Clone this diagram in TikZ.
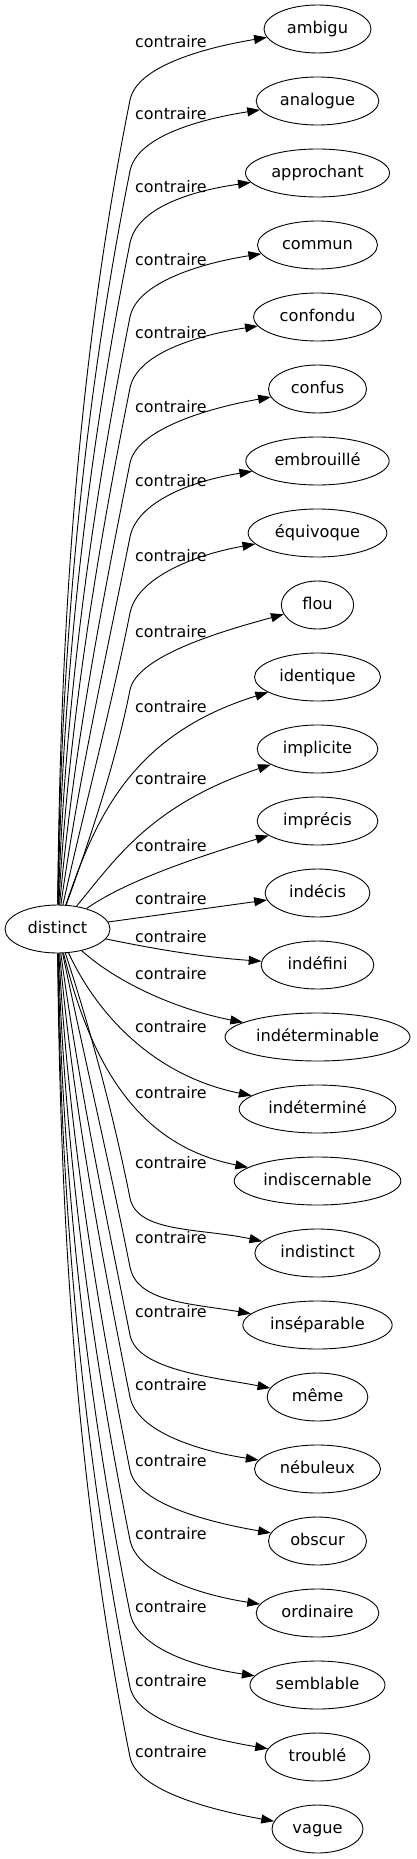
\documentclass[tikz,border=0pt]{standalone}
\usepackage{fontspec}
\setmainfont{DejaVu Sans}
\usetikzlibrary{arrows.meta,shapes.geometric}
\tikzset{
 tnode/.style={draw, ellipse, line width=0.9pt, minimum height=48pt, inner sep=0pt,
   font=\fontsize{16.2}{19}\selectfont, text height=9.5pt, text depth=0pt},
 lbl/.style={anchor=west, inner sep=0pt, font=\fontsize{15.9}{18}\selectfont,
   text height=11.5pt, text depth=0pt},
 edge/.style={draw, line width=0.9pt, -{Triangle[length=12.7pt,width=9pt]}}
}
% #1 target, #2 target y, #3 bend offset, #4 first control x, #5 target width, #6 end control offset
\newcommand\upE[6]{\draw[edge] (distinct) .. controls (#4,{905-(905-#2-#3)/3}) and ({130-0.2*(905-#2-#3)/3},{#2+#3+(905-#2-#3)/3}) .. (130,{#2+#3}) .. controls (137,{#2+#3-35}) and ({262.5-#5/2},{#2+#6}) .. (#1);}
\newcommand\downE[6]{\draw[edge] (distinct) .. controls (#4,{953+(#2+#3-953)/3}) and ({130-0.2*(#2+#3-953)/3},{#2+#3-(#2+#3-953)/3}) .. (130,{#2+#3}) .. controls (137,{#2+#3+35}) and ({262.5-#5/2},{#2-#6}) .. (#1);}
\begin{document}
\begin{tikzpicture}[x=1pt,y=-1pt]
\useasboundingbox (0,0) rectangle (416,1859);
\node[tnode, minimum width=105pt] (distinct) at (57.5,929) {distinct};
\node[tnode, minimum width=107pt] (ambigu) at (317.5,29) {ambigu};
\node[tnode, minimum width=122.7pt] (analogue) at (317.5,101) {analogue};
\node[tnode, minimum width=144pt] (approchant) at (317.5,173) {approchant};
\node[tnode, minimum width=120pt] (commun) at (317.5,245) {commun};
\node[tnode, minimum width=127.7pt] (confondu) at (317.5,317) {confondu};
\node[tnode, minimum width=98pt] (confus) at (317.5,389) {confus};
\node[tnode, minimum width=143.3pt] (embrouille) at (317.5,461) {embrouillé};
\node[tnode, minimum width=138.7pt] (equivoque) at (317.5,533) {équivoque};
\node[tnode, minimum width=72.3pt] (flou) at (317.5,605) {flou};
\node[tnode, minimum width=126pt] (identique) at (317.5,677) {identique};
\node[tnode, minimum width=120.7pt] (implicite) at (317.5,749) {implicite};
\node[tnode, minimum width=120.7pt] (imprecis) at (317.5,821) {imprécis};
\node[tnode, minimum width=104.7pt] (indecis) at (317.5,893) {indécis};
\node[tnode, minimum width=112.7pt] (indefini) at (317.5,965) {indéfini};
\node[tnode, minimum width=185pt] (indeterminable) at (317.5,1037) {indéterminable};
\node[tnode, minimum width=156.7pt] (indetermine) at (317.5,1109) {indéterminé};
\node[tnode, minimum width=166.7pt] (indiscernable) at (317.5,1181) {indiscernable};
\node[tnode, minimum width=125.3pt] (indistinct) at (317.5,1253) {indistinct};
\node[tnode, minimum width=149.3pt] (inseparable) at (317.5,1325) {inséparable};
\node[tnode, minimum width=100.7pt] (meme) at (317.5,1397) {même};
\node[tnode, minimum width=126pt] (nebuleux) at (317.5,1469) {nébuleux};
\node[tnode, minimum width=98pt] (obscur) at (317.5,1541) {obscur};
\node[tnode, minimum width=122.7pt] (ordinaire) at (317.5,1613) {ordinaire};
\node[tnode, minimum width=135pt] (semblable) at (317.5,1685) {semblable};
\node[tnode, minimum width=104.7pt] (trouble) at (317.5,1757) {troublé};
\node[tnode, minimum width=91pt] (vague) at (317.5,1829) {vague};
% labels
\node[lbl] (l0) at (135,42) {contraire};
\node[lbl] (l1) at (135,114) {contraire};
\node[lbl] (l2) at (135,187) {contraire};
\node[lbl] (l3) at (135,260) {contraire};
\node[lbl] (l4) at (135,333) {contraire};
\node[lbl] (l5) at (135,407) {contraire};
\node[lbl] (l6) at (135,481) {contraire};
\node[lbl] (l7) at (135,556) {contraire};
\node[lbl] (l8) at (135,632) {contraire};
\node[lbl] (l9) at (135,707) {contraire};
\node[lbl] (l10) at (135,779) {contraire};
\node[lbl] (l11) at (135,846) {contraire};
\node[lbl] (l12) at (135,899) {contraire};
\node[lbl] (l13) at (135,937) {contraire};
\node[lbl] (l14) at (135,974) {contraire};
\node[lbl] (l15) at (135,1027) {contraire};
\node[lbl] (l16) at (135,1093) {contraire};
\node[lbl] (l17) at (135,1163) {contraire};
\node[lbl] (l18) at (135,1238) {contraire};
\node[lbl] (l19) at (135,1312) {contraire};
\node[lbl] (l20) at (135,1385) {contraire};
\node[lbl] (l21) at (135,1461) {contraire};
\node[lbl] (l22) at (135,1534) {contraire};
\node[lbl] (l23) at (135,1607) {contraire};
\node[lbl] (l24) at (135,1681) {contraire};
\node[lbl] (l25) at (135,1752) {contraire};
% upper edges
\upE{ambigu}{29}{71}{60}{107}{18}
\upE{analogue}{101}{70}{60.5}{122.7}{18}
\upE{approchant}{173}{70}{62}{144}{18}
\upE{commun}{245}{72}{64.5}{120}{18}
\upE{confondu}{317}{71}{68}{127.7}{18}
\upE{confus}{389}{74}{72.5}{98}{18}
\upE{embrouille}{461}{76}{78}{143.3}{20}
\upE{equivoque}{533}{80}{84.5}{138.7}{22}
\upE{flou}{605}{85}{92}{72.3}{25}
% middle edges
\draw[edge] (distinct) .. controls (95,820) and (130,735) .. (identique);
\draw[edge] (distinct) .. controls (115,860) and (150,805) .. (implicite);
\draw[edge] (distinct) .. controls (120,885) and (180,862) .. (imprecis);
\draw[edge] (distinct) -- (indecis);
\draw[edge] (distinct) .. controls (150,948) and (200,957) .. (indefini);
\draw[edge] (distinct) .. controls (120,985) and (180,1010) .. (indeterminable);
\draw[edge] (distinct) .. controls (95,1010) and (150,1075) .. (indetermine);
\draw[edge] (distinct) .. controls (90,1060) and (135,1145) .. (indiscernable);
% lower edges
\downE{indistinct}{1253}{-55}{92}{125.3}{25}
\downE{inseparable}{1325}{-58}{84.5}{149.3}{22}
\downE{meme}{1397}{-62}{78}{100.7}{20}
\downE{nebuleux}{1469}{-72}{72.5}{126}{18}
\downE{obscur}{1541}{-71}{68}{98}{18}
\downE{ordinaire}{1613}{-73}{64.5}{122.7}{18}
\downE{semblable}{1685}{-72}{62}{135}{18}
\downE{trouble}{1757}{-70}{60.5}{104.7}{18}
\downE{vague}{1829}{-72}{60}{91}{18}
\end{tikzpicture}
\end{document}
